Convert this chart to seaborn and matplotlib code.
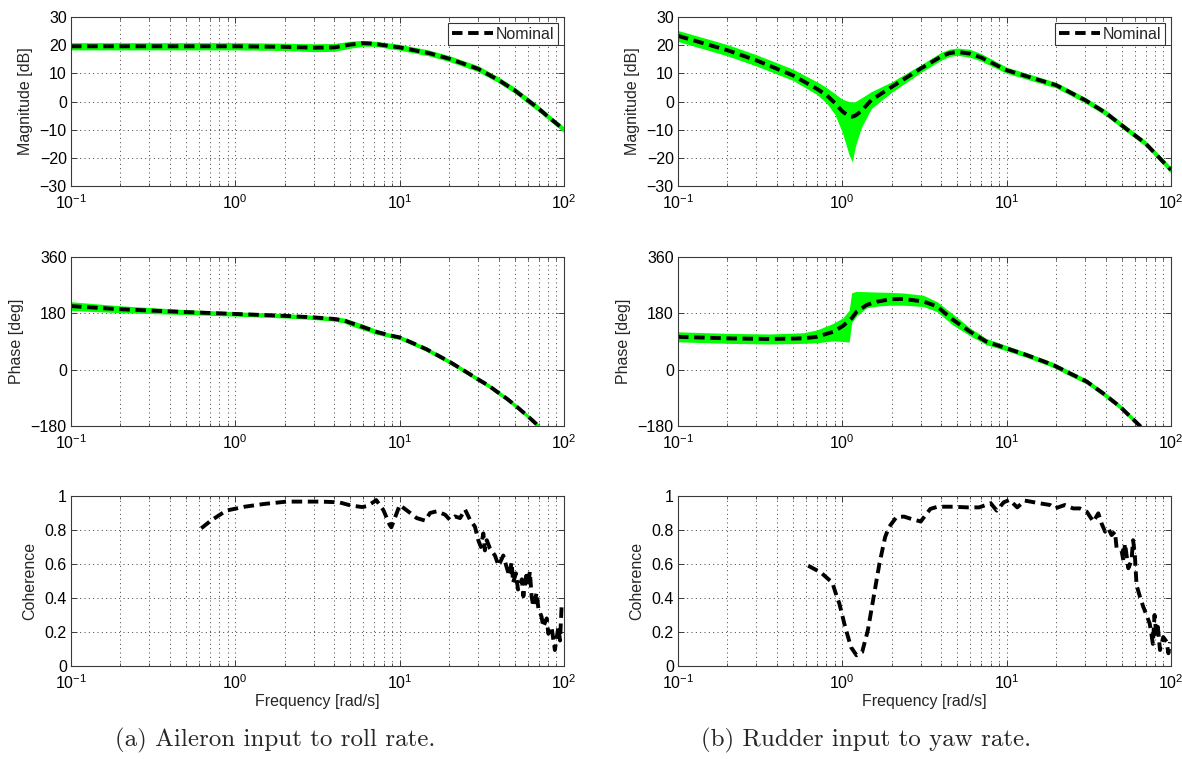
import numpy as np
import pandas as pd
import matplotlib
matplotlib.use("Agg")
import matplotlib.pyplot as plt
import matplotlib.ticker as mticker
import seaborn as sns

# ---------------- data ----------------
# (a) aileron -> roll rate, magnitude
a_mag_f = [0.1, 0.2, 0.5, 1, 2, 3, 4, 5, 6, 7, 8, 10, 15, 20, 30, 40, 50, 60, 70, 80, 100]
a_mag_nom = [19.6, 19.6, 19.6, 19.6, 19.4, 19.1, 19.2, 20.2, 20.7, 20.5, 20.0, 19.2, 17.2, 15.2, 11.6, 7.6, 4.0, 0.5, -2.5, -5.4, -10.0]
a_mag_up = [20.9, 20.9, 20.9, 20.9, 20.7, 20.5, 20.6, 21.4, 21.7, 21.4, 21.0, 20.3, 18.3, 16.3, 12.7, 8.7, 5.1, 1.6, -1.4, -4.4, -9.0]
a_mag_lo = [18.3, 18.3, 18.3, 18.3, 18.1, 17.7, 17.8, 18.9, 19.6, 19.6, 19.1, 18.2, 16.2, 14.2, 10.6, 6.6, 3.0, -0.6, -3.6, -6.4, -11.0]

# (a) phase
a_ph_f = [0.1, 0.2, 0.5, 1, 2, 3, 4, 4.6, 5, 6, 7.2, 8.5, 10, 12, 14.6, 17, 20, 25, 29.4, 35, 39, 45, 51.5, 60, 70, 100]
a_ph_nom = [203, 193, 184, 178, 172, 167, 162, 157, 150, 136, 121, 111, 103, 85, 65, 46, 26, -5, -28, -52, -70, -93, -118, -148, -180, -280]
a_ph_up = [217, 204, 192, 185, 179, 174, 169, 165, 159, 145, 129, 118, 110, 92, 72, 53, 33, 2, -21, -45, -63, -86, -111, -141, -173, -273]
a_ph_lo = [189, 182, 176, 171, 165, 160, 155, 149, 141, 127, 113, 104, 96, 78, 58, 39, 19, -12, -35, -59, -77, -100, -125, -155, -187, -287]

# (b) rudder -> yaw rate, magnitude
b_mag_f = [0.1, 0.2, 0.3, 0.5, 0.7, 0.8, 0.9, 1.0, 1.1, 1.15, 1.2, 1.3, 1.5, 2, 3, 4, 4.5, 5, 6, 7, 10, 20, 30, 40, 50, 70, 100]
b_mag_nom = [23.3, 18.2, 14.6, 9.3, 4.5, 2.3, -0.5, -3.5, -5.2, -5.4, -5.0, -3.5, 0.5, 5.2, 11.7, 16.0, 17.2, 17.6, 17.0, 15.6, 11.1, 5.8, 0.5, -4.0, -8.4, -14.9, -24.3]
b_mag_up = [25.2, 20.2, 16.6, 11.5, 7.0, 5.0, 2.8, 0.8, 0.0, -0.2, 0.0, 1.2, 3.5, 7.0, 13.0, 17.5, 18.6, 19.0, 18.5, 17.0, 12.2, 6.8, 1.5, -3.0, -7.4, -13.9, -23.2]
b_mag_lo = [21.3, 16.2, 12.6, 7.5, 2.5, -0.5, -4.5, -11.0, -19.0, -21.5, -16.0, -9.5, -2.5, 3.3, 10.3, 14.7, 16.0, 16.4, 15.7, 14.3, 10.0, 4.8, -0.5, -5.0, -9.4, -15.9, -25.4]

# (b) phase
b_ph_f = [0.1, 0.2, 0.36, 0.58, 0.7, 0.88, 1.01, 1.1, 1.14, 1.22, 1.41, 1.62, 1.95, 2.35, 3.1, 3.75, 4.7, 6.0, 7.5, 10, 13.2, 19.2, 24.3, 30.7, 38.7, 48.9, 64.8, 100]
b_ph_nom = [105, 100, 98, 100, 105, 121, 140, 157, 164, 185, 207, 217, 225, 226, 218, 203, 160, 121, 90, 68, 47, 15, -12, -38, -76, -118, -180, -290]
b_ph_up = [121, 116, 114, 118, 127, 148, 166, 190, 246, 250, 249, 248, 247, 245, 238, 218, 178, 133, 100, 77, 55, 23, -4, -30, -68, -110, -172, -282]
b_ph_lo = [89, 84, 82, 84, 86, 92, 90, 88, 150, 172, 198, 203, 206, 206, 202, 186, 143, 108, 80, 60, 39, 7, -20, -46, -84, -126, -188, -298]

# coherence
a_coh_f = [0.62, 0.71, 0.88, 1.14, 1.49, 2.05, 3.29, 4.28, 5.0, 5.9, 6.3, 6.9, 7.2, 7.95, 8.7, 8.9, 9.6, 10.0, 11.6, 12.7,
           14.3, 15.3, 16.8, 18.9, 20.2, 21.7, 23.3, 25.0, 26.8, 28.7, 30.1, 31.2, 32.3, 33.0, 33.9, 35.5, 38.0, 40.0, 42.7, 44.8,
           46.5, 48.0, 49.0, 51.0, 52.5, 55.4, 56.6, 59.3, 60.5, 62.0, 63.5, 65.0, 68.2, 69.8, 73.0, 74.8, 78.5, 80.3, 84.0, 86.0,
           88.0, 92.4, 94.6, 96.8, 99.0]
a_coh = [0.81, 0.855, 0.914, 0.937, 0.953, 0.967, 0.967, 0.963, 0.945, 0.935, 0.94, 0.963, 0.976, 0.918, 0.83, 0.816, 0.90, 0.947, 0.90, 0.87,
         0.855, 0.90, 0.91, 0.89, 0.86, 0.88, 0.87, 0.92, 0.86, 0.82, 0.74, 0.70, 0.78, 0.68, 0.74, 0.69, 0.65, 0.59, 0.65, 0.58,
         0.53, 0.61, 0.49, 0.545, 0.45, 0.51, 0.41, 0.555, 0.47, 0.555, 0.41, 0.35, 0.43, 0.34, 0.29, 0.23, 0.28, 0.19, 0.23, 0.16,
         0.094, 0.23, 0.15, 0.36, 0.37]
b_coh_f = [0.62, 0.74, 0.87, 0.91, 0.96, 1.04, 1.13, 1.22, 1.32, 1.43, 1.55, 1.68, 1.82, 1.92, 2.13, 2.37, 2.63, 3.0, 3.43, 3.8,
           4.7, 5.8, 6.8, 8.0, 8.7, 9.6, 10.4, 11.6, 12.9, 15.9, 18.4, 19.7, 22.6, 25.4, 27.9, 30.7, 33.7, 36.1, 37.8, 39.7,
           41.5, 43.5, 45.6, 46.7, 50.0, 51.3, 52.5, 55.0, 57.5, 58.8, 60.2, 61.7, 64.6, 67.7, 70.9, 74.2, 77.6, 79.4, 81.3, 83.2,
           85.7, 89.7, 94.0, 96.4, 98.6]
b_coh = [0.59, 0.55, 0.49, 0.43, 0.366, 0.23, 0.11, 0.063, 0.082, 0.21, 0.405, 0.60, 0.757, 0.816, 0.875, 0.879, 0.865, 0.85, 0.924, 0.937,
         0.937, 0.933, 0.933, 0.957, 0.914, 0.963, 0.977, 0.933, 0.973, 0.957, 0.947, 0.927, 0.947, 0.927, 0.927, 0.908, 0.849, 0.898, 0.839, 0.79,
         0.81, 0.77, 0.79, 0.69, 0.68, 0.62, 0.72, 0.575, 0.62, 0.74, 0.66, 0.476, 0.41, 0.35, 0.30, 0.25, 0.13, 0.30, 0.19, 0.23,
         0.094, 0.17, 0.143, 0.075, 0.14]

mag_ticks = [-30, -20, -10, 0, 10, 20, 30]
ph_ticks = [-180, 0, 180, 360]
coh_ticks = [0, 0.2, 0.4, 0.6, 0.8, 1]
captions = ["(a) Aileron input to roll rate.", "(b) Rudder input to yaw rate."]

# ---------------- style ----------------
FS = 11.5
sns.set_theme(style="ticks")
plt.rcParams.update({
    "font.family": ["Liberation Sans", "DejaVu Sans"],
    "mathtext.fontset": "custom",
    "mathtext.rm": "Liberation Sans",
    "mathtext.it": "Liberation Sans:italic",
    "mathtext.bf": "Liberation Sans:bold",
    "font.size": FS,
    "axes.labelsize": FS,
    "xtick.labelsize": FS,
    "ytick.labelsize": FS,
    "axes.edgecolor": "#3a3a3a",
    "axes.linewidth": 0.8,
    "xtick.direction": "in",
    "ytick.direction": "in",
    "xtick.top": True,
    "ytick.right": True,
    "xtick.major.size": 4,
    "ytick.major.size": 4,
    "xtick.minor.size": 2.2,
    "xtick.major.width": 0.7,
    "ytick.major.width": 0.7,
    "xtick.minor.width": 0.6,
    "xtick.color": "#3a3a3a",
    "ytick.color": "#3a3a3a",
    "xtick.labelcolor": "black",
    "ytick.labelcolor": "black",
    "xtick.major.pad": 5.5,
    "ytick.major.pad": 3,
    "axes.facecolor": "white",
    "figure.facecolor": "white",
})

GREEN = "#00ff00"
LW = 2.8
DASH = (0, (2.7, 1.45))

fig = plt.figure(figsize=(11.82, 7.59), dpi=100)
W, H = 1182.0, 759.0
col_x = [71 / W, 678 / W]
col_w = 493 / W
rows = [(17, 186), (257, 426), (496, 666)]


def make_ax(col, row):
    top, bot = rows[row]
    return fig.add_axes([col_x[col], (H - bot) / H, col_w, (bot - top) / H])


def style_ax(ax, yticks, ylim):
    ax.set_xscale("log")
    ax.set_xlim(0.1, 100)
    ax.set_ylim(*ylim)
    ax.xaxis.set_major_locator(mticker.LogLocator(base=10, numticks=10))
    ax.xaxis.set_minor_locator(mticker.LogLocator(base=10, subs=np.arange(2, 10), numticks=20))
    ax.xaxis.set_minor_formatter(mticker.NullFormatter())
    ax.set_yticks(yticks)
    ax.yaxis.set_major_formatter(mticker.FuncFormatter(lambda v, p: ("%g" % v).replace("-", "\u2212")))
    ax.grid(True, which="major", axis="both", color="#222222", lw=0.6, linestyle=(0, (1.2, 4)))
    ax.grid(True, which="minor", axis="x", color="#222222", lw=0.6, linestyle=(0, (1.2, 4)))
    ax.set_axisbelow(True)
    for s in ax.spines.values():
        s.set_zorder(5)


def band_plot(ax, f, nom, lo, up, legend):
    ax.fill_between(f, lo, up, color=GREEN, lw=0, zorder=2)
    df = pd.DataFrame({"f": f, "v": nom})
    sns.lineplot(data=df, x="f", y="v", ax=ax, color="black", lw=LW, linestyle=DASH,
                 estimator=None, sort=False, zorder=3, label="Nominal" if legend else None)
    ax.set_xlabel("")
    if legend:
        leg = ax.legend(loc="upper right", frameon=True, fancybox=False, framealpha=1,
                        edgecolor="#333333", borderaxespad=0.4, borderpad=0.22,
                        handlelength=2.6, handletextpad=0.15, fontsize=FS)
        leg.get_frame().set_linewidth(0.8)
    elif ax.get_legend() is not None:
        ax.get_legend().remove()


panels = [
    (a_mag_f, a_mag_nom, a_mag_lo, a_mag_up, a_ph_f, a_ph_nom, a_ph_lo, a_ph_up, a_coh_f, a_coh),
    (b_mag_f, b_mag_nom, b_mag_lo, b_mag_up, b_ph_f, b_ph_nom, b_ph_lo, b_ph_up, b_coh_f, b_coh),
]

for col, (mf, mn, ml, mu, pf, pn, pl, pu, cf, cv) in enumerate(panels):
    ax1 = make_ax(col, 0)
    band_plot(ax1, mf, mn, ml, mu, True)
    style_ax(ax1, mag_ticks, (-30, 30))
    ax1.set_ylabel("Magnitude [dB]", labelpad=5)

    ax2 = make_ax(col, 1)
    band_plot(ax2, pf, pn, pl, pu, False)
    style_ax(ax2, ph_ticks, (-180, 360))
    ax2.set_ylabel("Phase [deg]", labelpad=5)

    ax3 = make_ax(col, 2)
    dfc = pd.DataFrame({"f": cf, "c": cv})
    sns.lineplot(data=dfc, x="f", y="c", ax=ax3, color="black", lw=LW, linestyle=DASH,
                 estimator=None, sort=False, zorder=3)
    style_ax(ax3, coh_ticks, (0, 1))
    ax3.set_ylabel("Coherence", labelpad=5)
    ax3.set_xlabel("Frequency [rad/s]", labelpad=1)

fig.text(0.233, 0.025, captions[0], ha="center", va="center", family="cmr10", fontsize=18)
fig.text(0.733, 0.025, captions[1], ha="center", va="center", family="cmr10", fontsize=18)

fig.savefig("out.png", dpi=100)
